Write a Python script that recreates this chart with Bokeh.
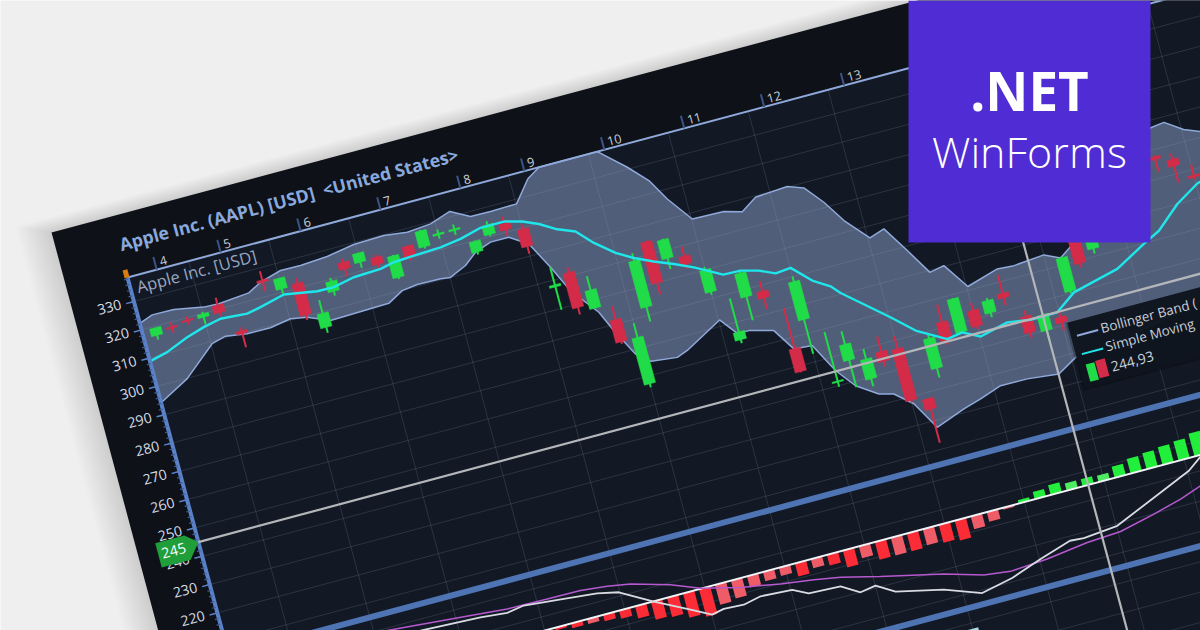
import numpy as np
from bokeh.plotting import figure
from bokeh.models import Range1d
from bokeh.core.properties import value
from bokeh.embed import file_html
from bokeh.resources import INLINE

# ---- data ----
session = [0,1,2,3,4,5,7,8,9,10,11,12,13,14,15,16,17,18,19,20,21,22,23,24,25,26,27,28,29,30,31,32,33,34,35,36,37,38,39,40,41,42,43,44,45,46,47,48,49,50,51,52,53,54,55,56,61,62,63]
is_up   = [1,0,0,1,0,0,0,1,0,1,1,0,1,0,1,0,1,1,1,1,1,0,0,1,0,1,0,1,1,0,1,0,1,1,1,0,0,1,1,1,1,0,0,0,1,0,1,0,1,0,0,1,0,1,0,1,0,0,0]
body_hi = [319.5,318.4,319.3,319.9,321.5,310.9,325.8,324.9,321.6,309.5,319.3,324.5,326.2,323.3,322.2,324.2,328.0,325.6,325.7,319.8,324.1,323.0,319.6,298.4,301.2,293.5,281.5,273.7,299.3,304.5,303.7,296.4,290.0,266.6,285.9,277.9,256.2,278.3,241.7,253.1,246.4,247.5,247.0,227.9,247.7,251.9,258.6,253.0,255.0,256.0,246.4,245.4,243.1,262.5,268.0,268.0,287.6,285.2,278.1]
body_lo = [316.8,317.9,318.8,318.7,318.8,309.8,325.0,321.1,310.4,304.5,315.7,322.1,323.0,320.7,314.6,320.4,322.4,325.0,325.1,316.0,320.7,320.8,313.4,297.6,288.8,287.1,273.7,257.3,282.9,289.9,297.1,293.6,282.2,263.8,277.5,275.5,248.0,264.9,241.2,247.5,239.4,244.1,228.8,224.1,237.1,245.3,246.8,247.4,250.6,254.4,240.6,239.8,241.1,250.7,259.0,262.7,286.6,282.8,277.3]
high    = [319.5,319.9,320.5,320.5,324.0,312.1,328.9,324.9,323.4,314.1,320.4,325.7,326.2,324.1,322.5,324.2,328.3,327.0,327.2,320.0,325.3,325.4,321.2,304.5,303.0,298.3,286.2,278.7,301.9,304.8,304.0,299.8,291.0,278.4,287.0,281.4,270.4,280.1,259.0,257.7,249.9,252.8,251.4,228.0,249.0,258.0,258.8,255.7,255.8,262.4,248.4,246.0,245.3,263.0,269.0,269.0,288.0,287.3,281.8]
low     = [315.3,316.3,317.6,316.1,317.8,305.0,321.9,319.5,308.6,302.6,314.2,319.5,321.0,319.3,314.0,319.0,321.8,323.7,323.6,315.1,320.0,318.7,310.8,289.5,286.3,287.0,273.0,256.1,277.8,285.8,293.3,291.8,281.2,262.6,269.2,271.7,247.8,252.8,239.6,237.9,236.8,242.3,228.0,212.3,233.8,243.9,246.5,246.3,249.0,251.8,238.8,236.1,238.2,250.0,257.5,261.0,282.4,277.0,276.5]

upper_t = [0.9,14.2,36.4,66,81.4,113.2,127.3,149.6,170.2,198.3,227.1,258.5,281.9,306.6,328.4,347.1,367.8,394.9,412.3,425.9,486.4,511.3,528.7,541.7,560.7,593.1,610.9,627.4,660.9,676.5,692.1,706.8,727.4,743.2,760.2,776.4,791.6,809.4,842.4,859.3,891,906.4,925.4,1027.1,1041.3,1058.4,1074.3]
upper_p = [322.4,324.0,323.9,322,321.8,322.7,325.2,327.3,327.2,327.8,329.4,329.7,328.7,329.4,331.8,328.3,328.2,328.4,335.7,338.5,338.5,330.7,324.4,316.7,307.9,307.6,305.9,309.5,310.2,308.3,301.8,294,286,287.7,278.5,269.3,270.3,261.3,264.5,264.1,265,262.5,266.9,297.5,298.1,294,291.8]
lower_t = [0.4,31.5,64.6,79.5,101,125.1,146.8,163.3,185,245.7,262,278,302.1,312,329.6,342.8,359.8,378.7,396.4,411.3,424.5,446.3,456.1,470.9,484.2,510.4,521.8,560.9,574.6,586.5,610.6,625.2,643.8,659.8,675.2,695.7,710.1,726.9,743.4,773.9,792.6,815.3,842.9,874.7,895.2,942.9,1030.5,1074]
lower_p = [294.3,299.9,309.2,310.5,309.4,309.3,310.5,309.5,306.4,306.9,309.9,310.6,310.4,310,312.6,316.1,318.1,318.1,314.1,304.5,295,285.4,278,268.4,264.6,263.6,265,272.2,266.2,266.1,263.9,256.1,255.6,245.3,238.5,233.7,232.4,227.4,217.6,221.3,223.1,225.7,225.6,224.4,228.4,229.9,236,240]
sma_t = [0.5,19,42.2,60.8,79.1,106.2,120.8,146.6,179.8,196.8,218.6,246.7,261.2,282.3,310.2,331.7,353.9,378,395.8,411.2,426,444.7,459.5,477.8,494.2,512.5,531.2,549.7,576.2,594,611.6,627.1,643,660.6,676.8,684.8,726.7,747.5,775.9,792.1,808.8,838.2,861.4,889.1,910.3,958.3,990.4,1008.4,1033.1,1057.7,1062]
sma_p = [308.9,310.4,313.5,315.4,316.7,316,317,319.1,317.2,317.1,318.6,319,320,320.4,320.8,321.8,323.7,323.7,322.1,319.8,316.7,314.1,308.7,303.5,300.2,297.3,294.7,291.8,286.8,286.6,285,282.6,283.1,277,273.5,270.4,258,251.4,245.8,246.7,243.7,246,244.8,244.9,250,253.9,259.8,262.8,270,275,275.4]

hist_session = list(range(18, 60))
hist_value = [-0.5,-1.3,-2.5,-2.5,-3.3,-4.2,-6.3,-9.2,-10,-12.5,-14.2,-10.3,-9.2,-5.8,-4.7,-4.2,-6.7,-4.7,-5.5,-8.7,-6.2,-9.2,-9.2,-9.2,-8.3,-9.2,-10.3,-6.7,-5,-1,1.7,3.7,5,3.7,3.7,3.3,5.8,7.5,8.3,9.2,10,11.7]
hist_light = [0,0,0,1,0,0,0,0,0,0,0,1,1,1,1,1,0,1,0,0,1,0,1,0,1,0,0,1,1,1,0,0,0,1,0,1,0,0,0,0,0,0]

signal_t = [159.5,253.9,281,322.2,356.5,383.4,406.6,444.9,473,512,551.5,584.8,611.2,650,711.8,750.2,776.9,815.5,858.5,893.5,930.2,959.9,982.6]
signal_v = [20.4,16.4,15.3,14.9,14.7,13.3,11.4,5.8,0.3,-4.5,-8,-10.3,-12.6,-17.3,-24.3,-30,-31.7,-30.5,-27.7,-26.7,-22.6,-18.8,-14.9]
macd_t = [191.6,253,280,297.8,338.3,371.9,393.1,424.5,454.9,477.5,490.2,510.6,529,561.2,576.3,608.8,626.6,642.8,660.6,707.7,743.9,776.8,809.1,842.2,856.4,891.8,942.3,975.2,990.1]
macd_v = [16,14.7,13.4,14.8,12.8,11.2,8.9,-0.2,-8,-14,-12.7,-13.3,-11.4,-12.4,-16.2,-17,-22.4,-21.1,-26.6,-31.9,-38.5,-35.1,-29.6,-24.6,-25.1,-23.5,-13,-6.2,-0.9]

lower_bar_session = [43]

price_ticks = [330,320,310,300,290,280,270,260,250,240,230,220]
time_tick_session = [1,5,10,15,20,24,29,34,39,44]
time_tick_label = ["4","5","6","7","8","9","10","11","12","13"]
last_price = 245
legend_labels = ["Bollinger Band (", "Simple Moving", "244,93"]

# ---- layout of the tilted chart ----
W, H = 1200, 630
CO, SI = np.cos(np.radians(15)), np.sin(np.radians(15))
ORIGIN = (127.0, 277.0)
FAR = 2200.0
PRICE_TOP, PX_PER_UNIT = 338.5, 2.93
SESSION0, SESSION_W = 13.7, 16.55
MACD_BASE, MACD_SCALE = 449.0, 2.0
FONT = value("Open Sans")

def T(u, v):
    u, v = np.asarray(u, float), np.asarray(v, float)
    return (ORIGIN[0] + u * CO + v * SI).tolist(), (ORIGIN[1] - u * SI + v * CO).tolist()
def vp(price):
    return (PRICE_TOP - np.asarray(price, float)) * PX_PER_UNIT
def us(i):
    return SESSION0 + SESSION_W * np.asarray(i, float)
def vm(m):
    return MACD_BASE - MACD_SCALE * np.asarray(m, float)

p = figure(width=W, height=H, x_range=Range1d(0, W), y_range=Range1d(H, 0),
           output_backend="svg", toolbar_location=None, min_border=0,
           background_fill_color="#efefef", border_fill_color="#efefef", outline_line_color=None)
p.axis.visible = False
p.grid.visible = False

def rect(u0, u1, v0, v1, **kw):
    x, y = T([u0, u1, u1, u0], [v0, v0, v1, v1])
    p.patch(x, y, line_color=None, **kw)

def seg(us_, vs_, color, width, alpha=1.0):
    x, y = T(us_, vs_)
    p.line(x, y, line_color=color, line_width=width, line_alpha=alpha)

def multi(us_list, vs_list, color, width, alpha=1.0):
    xs, ys = [], []
    for a, b in zip(us_list, vs_list):
        x, y = T(a, b)
        xs.append(x); ys.append(y)
    p.multi_line(xs, ys, line_color=color, line_width=width, line_alpha=alpha)

def label(u, v, txt, size, color, align="left", base="middle", style="normal", font=FONT):
    x, y = T([u], [v])
    p.text(x, y, text=[txt], text_font=font, text_font_size=f"{size}px", text_color=color,
           text_align=align, text_baseline=base, angle=15, angle_units="deg", text_font_style=style)

# soft shadow of the card
for e in range(3, 36, 3):
    rect(-61.7 - e, FAR, -63.2 - e * 0.45, FAR, fill_color="#000000", fill_alpha=0.012)
# card and plot area
rect(-61.7, FAR, -63.2, FAR, fill_color="#0e1218")
rect(0, FAR, 0, FAR, fill_color="#121925")

# Bollinger band
bx = list(upper_t) + list(lower_t)[::-1]
bv = list(vp(upper_p)) + list(vp(lower_p))[::-1]
x, y = T(bx, bv)
p.patch(x, y, fill_color="#505e79", line_color=None)

# grid
grid_prices = np.arange(330, -300, -10)
multi([[0, FAR]] * len(grid_prices), [[vp(g), vp(g)] for g in grid_prices], "#9aa5b8", 1, 0.19)
grid_sessions = np.arange(3, 90, 5)
multi([[us(g), us(g)] for g in grid_sessions], [[0, FAR]] * len(grid_sessions), "#9aa5b8", 1, 0.19)

# band outlines
seg(upper_t, vp(upper_p), "#8fa9da", 1.5)
seg(lower_t, vp(lower_p), "#8fa9da", 1.5)

# candles
GREEN, RED = "#20dc48", "#d42c48"
for up in (1, 0):
    idx = [k for k, f in enumerate(is_up) if f == up]
    col = GREEN if up else RED
    multi([[us(session[k]), us(session[k])] for k in idx],
          [[vp(high[k]), vp(low[k])] for k in idx], col, 2)
    xs, ys = [], []
    for k in idx:
        c = us(session[k])
        x, y = T([c - 5.8, c + 5.8, c + 5.8, c - 5.8],
                 [vp(body_hi[k]), vp(body_hi[k]), vp(body_lo[k]), vp(body_lo[k])])
        xs.append(x); ys.append(y)
    p.patches(xs, ys, fill_color=col, line_color=col, line_width=0.5)

# moving average
seg(sma_t, vp(sma_p), "#1fe6ea", 2.4)

# histogram and oscillator lines
for light, up, col in ((0, 0, "#fb2c36"), (1, 0, "#ee5c68"), (0, 1, "#22ee3c"), (1, 1, "#4eea62")):
    xs, ys = [], []
    for s, h, l in zip(hist_session, hist_value, hist_light):
        if l == light and (h > 0) == bool(up):
            c = us(s)
            x, y = T([c - 5.8, c + 5.8, c + 5.8, c - 5.8],
                     [vm(0), vm(0), vm(h), vm(h)])
            xs.append(x); ys.append(y)
    p.patches(xs, ys, fill_color=col, line_color=None)
seg([0, FAR], [vm(0), vm(0)], "#f2f4f7", 2)
seg(signal_t, vm(signal_v), "#b659cf", 1.5)
seg(macd_t, vm(macd_v), "#d8dbe2", 1.8)

# pane separators
seg([0, FAR], [391, 391], "#4f74b4", 6)
seg([0, FAR], [537, 537], "#4f74b4", 6)
for s in lower_bar_session:
    rect(us(s) - 5.8, us(s) + 5.8, 558, 620, fill_color="#a8dbe8")

# axes
seg([0, FAR], [0, 0], "#8fa9da", 2)
seg([0, 0], [0, FAR], "#5b82c8", 4)
minor = np.arange(338, 100, -2)
multi([[-4, 0]] * len(minor), [[vp(g), vp(g)] for g in minor], "#3f5f9a", 1.2)
major = np.arange(330, 100, -10)
multi([[-8, 0]] * len(major), [[vp(g), vp(g)] for g in major], "#5b82c8", 1.5)
rect(-3, 2, -8, 0, fill_color="#d97c12")
for s, t in zip(time_tick_session, time_tick_label):
    seg([us(s), us(s)], [-13, 0], "#3a5488", 2)
    label(us(s) + 5, -7, t, 12.5, "#c8cfda")
for v_ in price_ticks:
    label(-13, vp(v_) - 1, str(v_), 14.2, "#d5dbe6", align="right")

label(1, -34, "Apple Inc. (AAPL) [USD]\u00a0 <United States>", 17.7, "#89a9de", base="alphabetic", style="bold")
label(6.5, 11.5, "Apple Inc. [USD]", 16.5, "#98a6c2", base="alphabetic")

# last price line and marker
seg([0, FAR], [vp(last_price), vp(last_price)], "#b4b6ba", 2.2)
vl = vp(last_price)
x, y = T([0, -12, -42, -42, -12], [vl, vl - 10, vl - 10, vl + 15, vl + 15])
p.patch(x, y, fill_color="#1f9e3a", line_color=None)
label(-26, vl + 2, str(last_price), 14.5, "#ffffff", align="center")

# crosshair
c52 = us(52)
seg([c52, c52], [0, FAR], "#b4b6ba", 2.2)

# legend
rect(894, FAR, 287, 357, fill_color="#000000", fill_alpha=0.25)
rect(896, FAR, 287, 355, fill_color="#10161f", fill_alpha=0.97)
seg([902, 924], [302, 302], "#8fa9da", 2)
seg([902, 924], [321, 321], "#1fe6ea", 2)
label(927, 301, legend_labels[0], 13.4, "#c8d0dc")
label(927, 320, legend_labels[1], 13.4, "#c8d0dc")
label(927, 341, legend_labels[2], 14, "#c8d0dc")
rect(903, 912, 332, 350, fill_color=GREEN)
rect(913, 923, 331, 349, fill_color=RED)

# banner
p.quad(left=[908], right=[1150], top=[0], bottom=[242], fill_color="#4f2cd3", line_color=None)
p.text([1029], [90], text=[".NET"], text_font=FONT, text_font_size="53px", text_font_style="bold",
       text_color="#ffffff", text_align="center", text_baseline="alphabetic")
p.text([1029], [151], text=["WinForms"], text_font=value("Open Sans Light"), text_font_size="43px",
       text_color="#ffffff", text_align="center", text_baseline="alphabetic")

open("out.html", "w").write(file_html(p, INLINE))
